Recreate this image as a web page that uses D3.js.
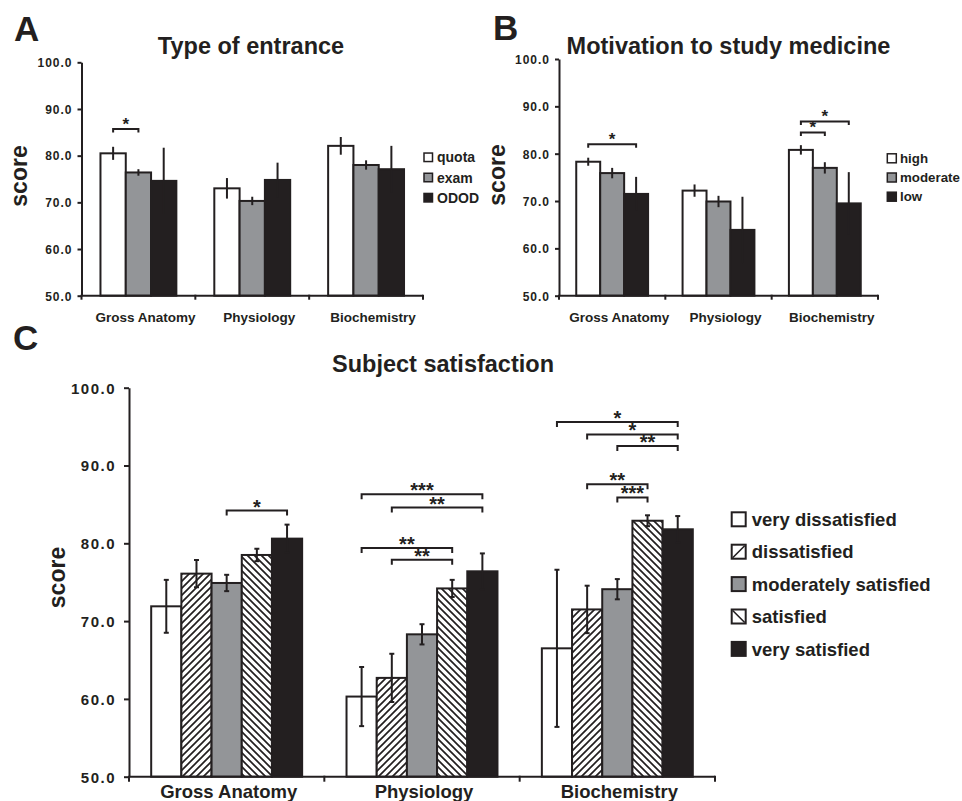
<!DOCTYPE html>
<html><head><meta charset="utf-8">
<script src="https://cdn.jsdelivr.net/npm/d3@7"></script>
<style>
html,body{margin:0;padding:0;background:#fff;}
svg{display:block;}
text{font-family:"Liberation Sans",Arial,Helvetica,sans-serif;font-weight:bold;fill:#231f20;}
</style>
</head><body><div id="chart"></div>
<script>
// ---------- data ----------
const categories = ["Gross Anatomy", "Physiology", "Biochemistry"];
const yTicks = [50, 60, 70, 80, 90, 100];

const entranceSeries = ["quota", "exam", "ODOD"];
const entranceMeans = [[80.5, 76.4, 74.6], [73.0, 70.3, 74.8], [82.1, 78.0, 77.1]];
const entranceErr   = [[1.4, 0.7, 7.1], [2.2, 0.9, 3.7], [1.9, 1.0, 5.0]];
const entranceSig = [
  {cat: 0, from: 0, to: 1, level: 85.7, label: "*"}
];

const motivationSeries = ["high", "moderate", "low"];
const motivationMeans = [[78.3, 75.9, 71.5], [72.2, 69.9, 63.9], [80.8, 77.0, 69.5]];
const motivationErr   = [[0.85, 1.1, 3.6], [1.3, 1.2, 7.0], [1.0, 1.2, 6.6]];
const motivationSig = [
  {cat: 0, from: 0, to: 2, level: 82.0, label: "*"},
  {cat: 2, from: 0, to: 1, level: 84.5, label: "*"},
  {cat: 2, from: 0, to: 2, level: 86.8, label: "*"}
];

const satisfactionSeries = ["very dissatisfied", "dissatisfied", "moderately satisfied", "satisfied", "very satisfied"];
const satisfactionMeans = [[71.9, 76.1, 74.9, 78.5, 80.6], [60.3, 62.7, 68.3, 74.2, 76.4], [66.5, 71.5, 74.1, 82.9, 81.8]];
const satisfactionErr   = [[3.4, 1.75, 1.05, 0.8, 1.8], [3.8, 3.1, 1.3, 1.1, 2.3], [10.1, 3.05, 1.3, 0.7, 1.7]];
const satisfactionSig = [
  {cat: 0, from: 2, to: 4, level: 84.2, label: "*"},
  {cat: 1, from: 0, to: 4, level: 86.3, label: "***"},
  {cat: 1, from: 1, to: 4, level: 84.6, label: "**"},
  {cat: 1, from: 0, to: 3, level: 79.4, label: "**"},
  {cat: 1, from: 1, to: 3, level: 77.9, label: "**"},
  {cat: 2, from: 0, to: 4, level: 95.6, label: "*"},
  {cat: 2, from: 1, to: 4, level: 94.0, label: "*"},
  {cat: 2, from: 2, to: 4, level: 92.5, label: "**"},
  {cat: 2, from: 1, to: 3, level: 87.6, label: "**"},
  {cat: 2, from: 2, to: 3, level: 85.9, label: "***"}
];

// ---------- styling ----------
const INK = "#231f20", GRAY = "#939598";
const svg = d3.select("#chart").append("svg").attr("width", 962).attr("height", 801);
svg.append("rect").attr("width", 962).attr("height", 801).attr("fill", "#fff");
const defs = svg.append("defs");
function hatch(id, d) {
  const p = defs.append("pattern").attr("id", id).attr("patternUnits", "userSpaceOnUse")
    .attr("width", 7).attr("height", 7);
  p.append("rect").attr("width", 7).attr("height", 7).attr("fill", "#fff");
  p.append("path").attr("d", d).attr("stroke", INK).attr("stroke-width", 1.7).attr("fill", "none");
}
hatch("hatchFwd", "M-1,1L1,-1M0,7L7,0M6,8L8,6");
hatch("hatchBack", "M-1,6L1,8M0,0L7,7M6,-1L8,1");

function drawPanel(o) {
  const g = svg.append("g");
  const x = d3.scaleBand().domain(categories).range([o.x0, o.x1]).padding(0);
  const xs = d3.scaleBand().domain(o.series).range([0, x.bandwidth()]).paddingInner(0).paddingOuter(o.pad);
  const y = d3.scaleLinear().domain([50, 100]).range([o.yBot, o.yTop]);
  const bw = xs.bandwidth();

  // bars
  categories.forEach((c, ci) => {
    o.series.forEach((s, si) => {
      const v = o.means[ci][si];
      g.append("rect").attr("x", x(c) + xs(s)).attr("y", y(v))
        .attr("width", bw).attr("height", y(50) - y(v))
        .attr("fill", o.fills[si]).attr("stroke", INK).attr("stroke-width", o.barStroke);
    });
  });
  // error bars
  categories.forEach((c, ci) => {
    o.series.forEach((s, si) => {
      const v = o.means[ci][si], e = o.errs[ci][si];
      const cx = x(c) + xs(s) + bw / 2;
      g.append("line").attr("x1", cx).attr("x2", cx).attr("y1", y(v + e)).attr("y2", y(v - e))
        .attr("stroke", INK).attr("stroke-width", 2);
      if (o.cap > 0) {
        [v + e, v - e].forEach(t => {
          g.append("line").attr("x1", cx - o.cap).attr("x2", cx + o.cap).attr("y1", y(t)).attr("y2", y(t))
            .attr("stroke", INK).attr("stroke-width", 2);
        });
      }
    });
  });

  // y axis
  const ya = d3.axisLeft(y).tickValues(yTicks).tickFormat(d3.format(".1f"))
    .tickSize(o.tickLen).tickSizeOuter(0).tickPadding(o.tickPad);
  const ag = g.append("g").attr("transform", `translate(${o.x0},0)`).call(ya);
  ag.select(".domain").attr("stroke", INK).attr("stroke-width", 2);
  ag.selectAll(".tick line").attr("stroke", INK).attr("stroke-width", 2);
  ag.selectAll(".tick text").attr("font-size", o.tickFont).attr("letter-spacing", o.tickLS)
    .attr("fill", INK).attr("dy", "0.36em");

  // x axis
  g.append("line").attr("x1", o.x0).attr("x2", o.x1).attr("y1", o.yBot).attr("y2", o.yBot)
    .attr("stroke", INK).attr("stroke-width", 2);
  const bounds = [o.x0].concat(categories.map(c => x(c) + x.bandwidth()));
  bounds.forEach(b => {
    g.append("line").attr("x1", b).attr("x2", b).attr("y1", o.yBot - 1).attr("y2", o.yBot + o.xTickLen)
      .attr("stroke", INK).attr("stroke-width", 2);
  });
  categories.forEach(c => {
    g.append("text").attr("x", x(c) + x.bandwidth() / 2 + o.catDx).attr("y", o.catY)
      .attr("text-anchor", "middle").attr("font-size", o.catFont).text(c);
  });

  // significance brackets
  o.sig.forEach(sg => {
    const c = categories[sg.cat];
    const xa = x(c) + xs(o.series[sg.from]) + bw / 2;
    const xb = x(c) + xs(o.series[sg.to]) + bw / 2;
    const yy = y(sg.level);
    g.append("path").attr("d", `M${xa},${yy + o.brTick}V${yy}H${xb}V${yy + o.brTick}`)
      .attr("fill", "none").attr("stroke", INK).attr("stroke-width", 2);
    g.append("text").attr("x", (xa + xb) / 2).attr("y", yy + o.starDy)
      .attr("text-anchor", "middle").attr("font-size", o.starFont).text(sg.label);
  });

  // y label
  g.append("text").attr("transform", `translate(${o.ylabX},${o.ylabY}) rotate(-90)`)
    .attr("text-anchor", "middle").attr("font-size", 23).text("score");
  // title
  g.append("text").attr("x", o.titleX).attr("y", o.titleY).attr("text-anchor", "middle")
    .attr("font-size", 23.5).text(o.title);
  // panel letter
  g.append("text").attr("x", o.letterX).attr("y", o.letterY).attr("font-size", 35).text(o.letter);

  // legend
  const L = o.legend;
  o.series.forEach((s, si) => {
    const cy = L.y0 + si * L.step;
    const sx = L.x, sy = cy - L.size / 2;
    const fill = o.fills[si];
    const isHatch = typeof fill === "string" && fill.startsWith("url");
    g.append("rect").attr("x", sx).attr("y", sy).attr("width", L.size).attr("height", L.size)
      .attr("fill", isHatch ? "#fff" : fill).attr("stroke", INK).attr("stroke-width", L.stroke);
    if (isHatch) {
      const fwd = fill.indexOf("Fwd") >= 0;
      g.append("line").attr("x1", sx + 1).attr("x2", sx + L.size - 1)
        .attr("y1", fwd ? sy + L.size - 1 : sy + 1).attr("y2", fwd ? sy + 1 : sy + L.size - 1)
        .attr("stroke", INK).attr("stroke-width", 1.6);
    }
    g.append("text").attr("x", L.textX).attr("y", cy + L.font * 0.36)
      .attr("font-size", L.font).text(s);
  });
}

drawPanel({
  series: entranceSeries, means: entranceMeans, errs: entranceErr, sig: entranceSig,
  fills: ["#fff", GRAY, INK],
  x0: 81.5, x1: 423, yTop: 62.3, yBot: 295.7, pad: 0.75, barStroke: 2, cap: 0,
  tickLen: 4, tickPad: 5, tickFont: 12, tickLS: 1,
  xTickLen: 4, catY: 321.5, catDx: 7, catFont: 13.5,
  brTick: 3.5, starDy: 1, starFont: 17,
  ylabX: 27, ylabY: 176, title: "Type of entrance", titleX: 251, titleY: 53.5,
  letter: "A", letterX: 14, letterY: 41,
  legend: {x: 424, y0: 157.3, step: 20.2, size: 8.5, stroke: 1.5, textX: 437, font: 14}
});

drawPanel({
  series: motivationSeries, means: motivationMeans, errs: motivationErr, sig: motivationSig,
  fills: ["#fff", GRAY, INK],
  x0: 559, x1: 878, yTop: 59, yBot: 295.7, pad: 0.72, barStroke: 2, cap: 0,
  tickLen: 4, tickPad: 5, tickFont: 12, tickLS: 1,
  xTickLen: 4, catY: 321.5, catDx: 7, catFont: 13.5,
  brTick: 3.5, starDy: 1, starFont: 17,
  ylabX: 505, ylabY: 175, title: "Motivation to study medicine", titleX: 728.5, titleY: 54,
  letter: "B", letterX: 493, letterY: 40,
  legend: {x: 887.3, y0: 158.3, step: 19.2, size: 9, stroke: 1.5, textX: 900, font: 13.3}
});

drawPanel({
  series: satisfactionSeries, means: satisfactionMeans, errs: satisfactionErr, sig: satisfactionSig,
  fills: ["#fff", "url(#hatchFwd)", GRAY, "url(#hatchBack)", INK],
  x0: 129, x1: 715, yTop: 387.7, yBot: 776.7, pad: 0.735, barStroke: 2, cap: 2.5,
  tickLen: 5, tickPad: 8, tickFont: 15, tickLS: 1.5,
  xTickLen: 5, catY: 798, catDx: 2, catFont: 18.5,
  brTick: 5, starDy: 3, starFont: 20,
  ylabX: 65, ylabY: 577.5, title: "Subject satisfaction", titleX: 443, titleY: 371.5,
  letter: "C", letterX: 13, letterY: 350,
  legend: {x: 731.7, y0: 519.3, step: 32.4, size: 14, stroke: 2, textX: 751.7, font: 18.5}
});
</script>
</body></html>
